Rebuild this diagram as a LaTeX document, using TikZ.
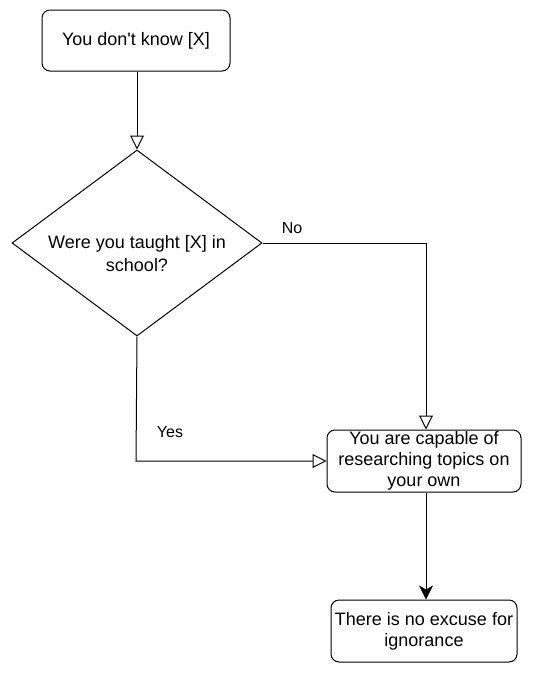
\documentclass[tikz,border=0pt]{standalone}
\usepackage{fontspec}
\setmainfont{Liberation Sans}
\usetikzlibrary{arrows.meta,shapes.geometric}
\begin{document}
\begin{tikzpicture}[x=1pt,y=-1pt,
  box/.style={draw, line width=1pt, rounded corners=8pt, align=center, inner sep=0pt, font=\fontsize{18}{21}\selectfont},
  opentip/.style={-{Triangle[open,length=14pt,width=14pt]}},
  filltip/.style={-{Stealth[length=14pt,width=14pt,inset=4pt]}},
  conn/.style={line width=1pt},
  lbl/.style={font=\fontsize{16}{19}\selectfont}]
\useasboundingbox (0,0) rectangle (540,683);
\node[box, minimum width=188pt, minimum height=61pt] (start) at (136,40.5) {You don\textquotesingle t know [X]};
\node[draw, line width=1pt, diamond, aspect=1.344, minimum width=250pt, minimum height=186pt, inner sep=0pt] (q) at (137,243) {};
\node[align=center, inner sep=0pt, font=\fontsize{18}{23}\selectfont] (qt) at (137,254) {Were you taught [X] in\\school?};
\node[box, minimum width=194pt, minimum height=62pt] (cap) at (424,461) {You are capable of\\researching topics on\\your own};
\node[box, minimum width=186pt, minimum height=62pt] (end) at (424,631) {There is no excuse for\\ignorance};
\coordinate (noc) at (426,243);
\coordinate (yesc) at (136,461);
\draw[conn, opentip] (start.south -| q.north) -- (q.north);
\draw[conn, opentip] (q.east) -- (noc) -- (noc |- cap.north);
\draw[conn, opentip] (q.south) -- (yesc) -- (cap.west);
\draw[conn, filltip] (cap.south -| noc) -- (end.north -| noc);
\node[lbl] (no) at (292,228) {No};
\node[lbl] (yes) at (170,432) {Yes};
\end{tikzpicture}
\end{document}
